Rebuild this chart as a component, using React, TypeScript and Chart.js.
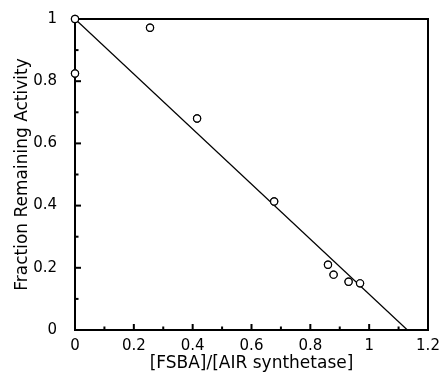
import React, { useEffect, useRef } from "react";
import { Chart, registerables } from "chart.js";

Chart.register(...registerables);

// Measured data: [FSBA]/[AIR synthetase] vs fraction remaining activity
const ratioValues = [0, 0, 0.255, 0.415, 0.677, 0.86, 0.879, 0.93, 0.969];
const activityValues = [1.0, 0.825, 0.972, 0.68, 0.413, 0.21, 0.178, 0.155, 0.15];

// Fitted line end points
const fitX = [0, 1.13];
const fitY = [1, 0];

// Axis ticks
const xMajorTicks = [0, 0.2, 0.4, 0.6, 0.8, 1, 1.2];
const xMinorTicks = [0.1, 0.3, 0.5, 0.7, 0.9, 1.1];
const yMajorTicks = [0, 0.2, 0.4, 0.6, 0.8, 1];
const yMinorTicks = [0.1, 0.3, 0.5, 0.7, 0.9];

const xTitle = "[FSBA]/[AIR synthetase]";
const yTitle = "Fraction Remaining Activity";

const FONT = "'DejaVu Sans', 'Liberation Sans', Arial, sans-serif";

const framePlugin = {
  id: "frameAndTicks",
  afterDatasetsDraw(chart: any) {
    const { ctx, chartArea, scales } = chart;
    const xs = scales.x;
    const ys = scales.y;
    ctx.save();
    ctx.strokeStyle = "#000";
    ctx.lineWidth = 2;
    ctx.lineCap = "butt";
    const drawX = (vals: number[], len: number) => {
      vals.forEach((v) => {
        const px = xs.getPixelForValue(v);
        ctx.beginPath();
        ctx.moveTo(px, chartArea.bottom);
        ctx.lineTo(px, chartArea.bottom - len);
        ctx.stroke();
      });
    };
    const drawY = (vals: number[], len: number) => {
      vals.forEach((v) => {
        const py = ys.getPixelForValue(v);
        ctx.beginPath();
        ctx.moveTo(chartArea.left, py);
        ctx.lineTo(chartArea.left + len, py);
        ctx.stroke();
      });
    };
    drawX(xMajorTicks, 6);
    drawX(xMinorTicks, 3.5);
    drawY(yMajorTicks, 6);
    drawY(yMinorTicks, 3.5);
    ctx.strokeRect(
      chartArea.left,
      chartArea.top,
      chartArea.right - chartArea.left,
      chartArea.bottom - chartArea.top
    );
    ctx.restore();
  },
};

// redraw points on top of the frame
const pointsOnTopPlugin = {
  id: "pointsOnTop",
  afterDraw(chart: any) {
    const meta = chart.getDatasetMeta(1);
    const { ctx } = chart;
    ctx.save();
    meta.data.forEach((pt: any) => {
      ctx.beginPath();
      ctx.arc(pt.x, pt.y, 3.6, 0, Math.PI * 2);
      ctx.fillStyle = "#fff";
      ctx.fill();
      ctx.lineWidth = 1.2;
      ctx.strokeStyle = "#000";
      ctx.stroke();
    });
    ctx.restore();
  },
};

export default function App() {
  const ref = useRef<HTMLCanvasElement>(null);
  useEffect(() => {
    if (!ref.current) return;
    const fmt = (v: any) => String(Number(Number(v).toFixed(1)));
    const chart = new Chart(ref.current, {
      type: "scatter",
      data: {
        datasets: [
          {
            type: "line",
            data: fitX.map((x, i) => ({ x, y: fitY[i] })),
            borderColor: "#000",
            borderWidth: 1.2,
            pointRadius: 0,
            fill: false,
            clip: false as any,
          },
          {
            type: "scatter",
            data: ratioValues.map((x, i) => ({ x, y: activityValues[i] })),
            pointRadius: 3.6,
            pointBackgroundColor: "#fff",
            pointBorderColor: "#000",
            pointBorderWidth: 1.2,
            clip: false as any,
          },
        ],
      },
      options: {
        animation: false,
        responsive: false,
        events: [],
        layout: { padding: { left: 0, right: 15, top: 17, bottom: 0 } },
        plugins: {
          legend: { display: false },
          tooltip: { enabled: false },
        },
        scales: {
          x: {
            type: "linear",
            min: 0,
            max: 1.2,
            grid: { display: false },
            border: { display: false },
            afterFit: (s: any) => {
              s.height = 47;
            },
            afterBuildTicks: (s: any) => {
              s.ticks = xMajorTicks.map((v) => ({ value: v }));
            },
            ticks: {
              color: "#000",
              font: { family: FONT, size: 15 },
              padding: -1,
              maxRotation: 0,
              callback: fmt,
            },
            title: {
              display: true,
              text: xTitle,
              color: "#000",
              font: { family: FONT, size: 17 },
              padding: { top: 0, bottom: 3 },
            },
          },
          y: {
            type: "linear",
            min: 0,
            max: 1,
            grid: { display: false },
            border: { display: false },
            afterFit: (s: any) => {
              s.width = 75;
            },
            afterBuildTicks: (s: any) => {
              s.ticks = yMajorTicks.map((v) => ({ value: v }));
            },
            ticks: {
              color: "#000",
              font: { family: FONT, size: 15 },
              padding: 10,
              callback: fmt,
            },
            title: {
              display: true,
              text: yTitle,
              color: "#000",
              font: { family: FONT, size: 17 },
              padding: { top: 12, bottom: 0 },
            },
          },
        },
      },
      plugins: [framePlugin, pointsOnTopPlugin],
    } as any);
    return () => chart.destroy();
  }, []);
  return (
    <div style={{ position: "absolute", left: 0, top: 0, width: 443, height: 377, background: "#fff" }}>
      <canvas ref={ref} width={443} height={377} style={{ display: "block" }} />
    </div>
  );
}
